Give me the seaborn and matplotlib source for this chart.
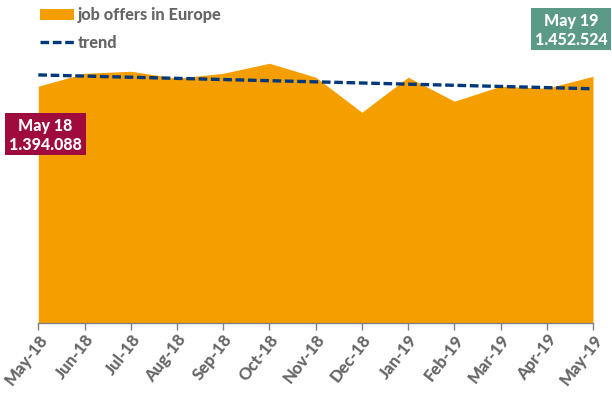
import matplotlib
matplotlib.use('Agg')
import matplotlib.pyplot as plt
import seaborn as sns
import pandas as pd
from matplotlib.patches import Rectangle

months = ['May-18', 'Jun-18', 'Jul-18', 'Aug-18', 'Sep-18', 'Oct-18', 'Nov-18',
          'Dec-18', 'Jan-19', 'Feb-19', 'Mar-19', 'Apr-19', 'May-19']
offers = [1394088, 1470000, 1482000, 1441000, 1470000, 1529000, 1447000,
          1241000, 1447000, 1306000, 1394000, 1382000, 1452524]
trend = [1460500, 1453700, 1447000, 1440200, 1433400, 1426600, 1419800,
         1413000, 1406200, 1399500, 1392700, 1385900, 1379000]

df = pd.DataFrame({'month': months, 'offers': offers, 'trend': trend})
df['pos'] = range(len(df))

sns.set_theme(style='white')
plt.rcParams['font.family'] = ['Lato', 'DejaVu Sans']

grey = '#666666'
orange = '#f59e00'
navy = '#00387a'

fig = plt.figure(figsize=(6.12, 4.07), dpi=100)
ax = fig.add_axes([38.3 / 612, 1 - 323.3 / 407, (593 - 38.3) / 612, 323.3 / 407])

ax.fill_between(df['pos'], 0, df['offers'], color=orange, linewidth=0, label='job offers in Europe')
sns.lineplot(data=df, x='pos', y='trend', ax=ax, color=navy, linewidth=2.4,
             linestyle=(0, (2.6, 1.1)), label='trend', clip_on=False)

ax.set_xlim(0, 12)
ax.set_ylim(0, 1901000)
ax.set_xlabel('')
ax.set_ylabel('')
ax.set_yticks([])
ax.set_xticks(df['pos'])
ax.set_xticklabels(months, rotation=52, ha='right', rotation_mode='anchor',
                   fontsize=12, fontweight='black', color=grey)
ax.tick_params(axis='x', length=5, width=1, color='#808080', bottom=True, pad=1)

for s in ['top', 'left', 'right']:
    ax.spines[s].set_visible(False)
ax.spines['bottom'].set_color('#808080')
ax.spines['bottom'].set_linewidth(1)

leg = ax.legend(loc='upper left', bbox_to_anchor=(-2 / 555, 1 - 4 / 323.3), frameon=False,
                prop={'size': 11.7, 'weight': 'black'}, labelcolor=grey,
                handlelength=2.1, handletextpad=0.25, labelspacing=0.72,
                borderaxespad=0.0, borderpad=0.2)

# the two value callouts, boxes given in pixels from the top left
def callout(x0, y0, x1, y1, color, first, second):
    fig.add_artist(Rectangle((x0 / 612, 1 - y1 / 407), (x1 - x0) / 612, (y1 - y0) / 407,
                             transform=fig.transFigure, facecolor=color, edgecolor='none'))
    cx = (x0 + x1) / 2 / 612
    fig.text(cx, 1 - (y0 + 13) / 407, first, color='white', fontsize=11.5, fontweight='black',
             ha='center', va='center')
    fig.text(cx, 1 - (y0 + 32) / 407, second, color='white', fontsize=11.5, fontweight='black',
             ha='center', va='center')

callout(5, 113, 86, 155, '#9e0b3c', 'May 18', '1.394.088')
callout(531, 8, 611, 50, '#5b9a87', 'May 19', '1.452.524')

fig.savefig('out.png', dpi=100)
